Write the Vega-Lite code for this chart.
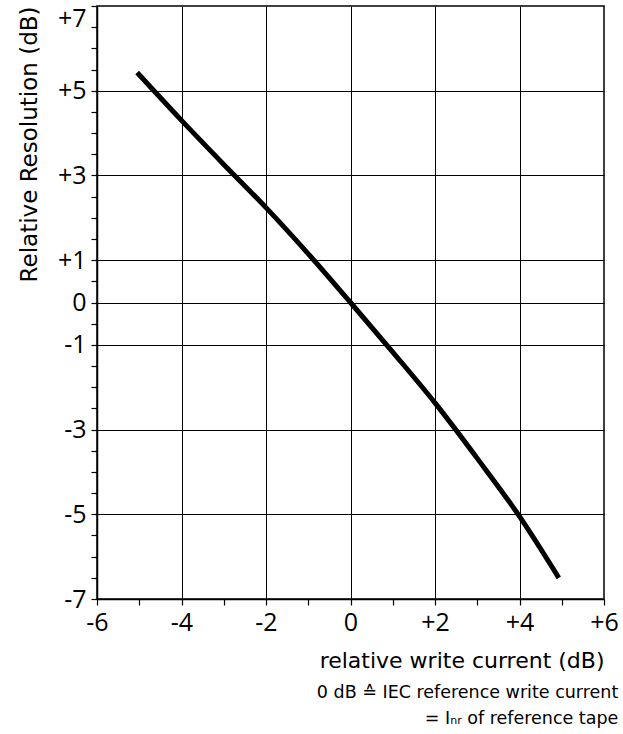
{
  "$schema": "https://vega.github.io/schema/vega-lite/v6.json",
  "width": 507,
  "height": 593,
  "autosize": "none",
  "padding": {"left": 97, "top": 6, "right": 19, "bottom": 135},
  "config": {
    "font": "Open Sans",
    "view": {"stroke": "black", "strokeWidth": 1.5},
    "axis": {
      "domainColor": "black",
      "domainWidth": 1.5,
      "tickColor": "black",
      "tickWidth": 1.2,
      "tickSize": 6,
      "gridColor": "black",
      "gridWidth": 1,
      "labelColor": "black",
      "labelFontSize": 25,
      "labelOverlap": false,
      "labelFlush": false,
      "labelBound": false,
      "titleColor": "black",
      "titleFont": "DejaVu Sans",
      "titleFontWeight": "normal"
    }
  },
  "title": {
    "text": ["0 dB ≙ IEC reference write current", "= Iₙᵣ of reference tape"],
    "orient": "bottom",
    "anchor": "end",
    "font": "DejaVu Sans",
    "fontSize": 17.5,
    "fontWeight": "normal",
    "color": "black",
    "lineHeight": 26,
    "offset": 13
  },
  "data": {
    "values": [
      {"current": -5.05, "resolution": 5.43},
      {"current": -4, "resolution": 4.3},
      {"current": -3, "resolution": 3.26},
      {"current": -2, "resolution": 2.24},
      {"current": -1, "resolution": 1.15},
      {"current": 0, "resolution": 0},
      {"current": 1, "resolution": -1.17},
      {"current": 2, "resolution": -2.37},
      {"current": 3, "resolution": -3.68},
      {"current": 4, "resolution": -5.05},
      {"current": 4.93, "resolution": -6.5}
    ]
  },
  "mark": {"type": "line", "color": "black", "strokeWidth": 5, "strokeCap": "butt", "strokeJoin": "round", "interpolate": "monotone"},
  "encoding": {
    "x": {
      "field": "current",
      "type": "quantitative",
      "scale": {"domain": [-6, 6], "nice": false, "zero": false},
      "axis": {
        "values": [-6, -5, -4, -3, -2, -1, 0, 1, 2, 3, 4, 5, 6],
        "labelExpr": "datum.value % 2 != 0 ? '' : (datum.value > 0 ? '+' + datum.value : datum.value + '')",
        "gridOpacity": {"condition": {"test": "datum.value % 2 != 0 || abs(datum.value) == 6", "value": 0}, "value": 1},
        "labelPadding": 5,
        "title": "relative write current (dB)",
        "titleFontSize": 22,
        "titleAnchor": "end",
        "titlePadding": 15
      }
    },
    "y": {
      "field": "resolution",
      "type": "quantitative",
      "scale": {"domain": [-7, 7], "nice": false, "zero": false},
      "axis": {
        "values": [-7, -6.5, -6, -5.5, -5, -4.5, -4, -3.5, -3, -2.5, -2, -1.5, -1, -0.5, 0, 0.5, 1, 1.5, 2, 2.5, 3, 3.5, 4, 4.5, 5, 5.5, 6, 6.5, 7],
        "labelExpr": "indexof([7,5,3,1,0,-1,-3,-5,-7], datum.value) < 0 ? '' : (datum.value > 0 ? '+' + datum.value : datum.value + '')",
        "labelBaseline": {"condition": {"test": "datum.value == 7", "value": "top"}, "value": "middle"},
        "gridOpacity": {"condition": {"test": "indexof([5,3,1,0,-1,-3,-5], datum.value) < 0", "value": 0}, "value": 1},
        "labelPadding": 5,
        "title": "Relative Resolution (dB)",
        "titleFontSize": 23,
        "titleAnchor": "end",
        "titlePadding": 16
      }
    }
  }
}
